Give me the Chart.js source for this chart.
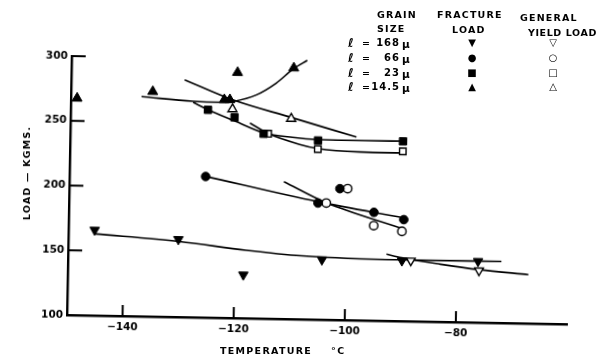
<!DOCTYPE html>
<html>
<head>
<meta charset="utf-8">
<script src="https://cdn.jsdelivr.net/npm/chart.js@4/dist/chart.umd.min.js"></script>
<style>
  html, body { margin: 0; padding: 0; background: #fff; }
  #wrap { position: relative; width: 596px; height: 357px; overflow: hidden; }
  #chart { position: absolute; left: 0; top: 0; transform-origin: 67px 315px; transform: rotate(1.05deg); }
  .t { position: absolute; font-family: "DejaVu Sans", sans-serif; font-weight: bold; color: #000;
       font-size: 9.5px; line-height: 10px; letter-spacing: 1.2px; white-space: nowrap; }
  .sym { position: absolute; font-family: "DejaVu Sans", sans-serif; color: #000; font-size: 10px;
         line-height: 10px; transform: translate(-50%, -50%); }
</style>
</head>
<body>
<div id="wrap">
  <canvas id="chart" width="596" height="357"></canvas>
</div>
<script>
// axis ticks
const tempTicks = [-140, -120, -100, -80];
const tempTickLabels = ['\u2212140', '\u2212120', '\u2212100', '\u221280'];
const loadTicks = [100, 150, 200, 250, 300];
const loadTickLabels = ['100', '150', '200', '250', '300'];

// grain sizes (legend)
const grainSizes = ['168', '66', '23', '14.5'];

// measured points: temperature (C) and load (kgms)
const frac168T = [-145.3, -130.2, -118.4, -104.3, -89.9, -76.2];
const frac168L = [166, 160, 133.5, 146.3, 146.7, 147.3];
const yield168T = [-88.3, -76];
const yield168L = [146.8, 140.1];

const frac66T = [-125.5, -105.2, -101.3, -95.1, -89.7];
const frac66L = [208.9, 190, 201.4, 183.6, 178.4];
const yield66T = [-103.7, -99.9, -95.1, -90];
const yield66L = [190.1, 201.5, 173.3, 169.3];

const frac23T = [-125.3, -120.5, -115.2, -105.4, -90.1];
const frac23L = [260.4, 254.9, 242.7, 238.3, 238.8];
const yield23T = [-114.4, -105.4, -90.1];
const yield23L = [242.8, 231.7, 231.1];

const frac14T = [-148.9, -135.3, -122.4, -121.4, -120.1, -110];
const frac14L = [267.5, 273.7, 268.4, 268.5, 289.6, 293.9];
const yield14T = [-120.9, -110.3];
const yield14L = [261.3, 254.7];

// hand drawn curves through the points
const fit168FT = [-145.3, -130, -118, -108, -90, -72];
const fit168FL = [163, 158.3, 152.5, 149, 147.3, 147.5];
const fit168YT = [-92.7, -90, -83, -76, -67.1];
const fit168YL = [151.5, 149, 144.5, 140.8, 137.7];

const fit66FT = [-125.5, -105.2, -89.7];
const fit66FL = [209, 191, 179.7];
const fit66YT = [-111.4, -103.7, -90.4];
const fit66YL = [206, 190.3, 172];

const fit23FT = [-128, -125.3, -120.5, -115.2, -110, -105.4, -97, -90];
const fit23FL = [266, 260.5, 252.3, 243.5, 240.3, 239, 238.8, 239];
const fit23YT = [-117.7, -114.4, -108.7, -105.4, -97.8, -90.5];
const fit23YL = [250.8, 243, 235, 232, 230, 229.8];

const fit14FT = [-137.3, -128, -122.5, -120.8, -116.6, -113.1, -110.1, -107.6];
const fit14FL = [269.7, 266.8, 266.4, 267.2, 272.7, 282, 293.1, 300];
const fit14YT = [-129.6, -120.9, -110.3, -98.5];
const fit14YL = [283.2, 268.5, 255.7, 241.5];

const ink = '#000';
const pts = (T, L) => T.map((t, i) => ({ x: t, y: L[i] }));

function marks(T, L, style, radius, open, rotation) {
  return {
    data: pts(T, L),
    showLine: false,
    pointStyle: style,
    pointRadius: radius,
    pointRotation: rotation || 0,
    pointBackgroundColor: open ? '#fff' : ink,
    pointBorderColor: ink,
    pointBorderWidth: open ? 1.4 : 1,
    order: 0,
    clip: false
  };
}

function curve(T, L) {
  return {
    data: pts(T, L),
    showLine: true,
    pointRadius: 0,
    borderColor: ink,
    borderWidth: 1.6,
    cubicInterpolationMode: 'monotone',
    fill: false,
    order: 1,
    clip: false
  };
}

// small ticks pointing into the plot
const inwardTicks = {
  id: 'inwardTicks',
  afterDatasetsDraw(chart) {
    const { ctx, chartArea, scales: { x, y } } = chart;
    ctx.save();
    ctx.strokeStyle = ink;
    ctx.lineWidth = 2;
    ctx.beginPath();
    x.ticks.forEach(t => {
      const px = x.getPixelForValue(t.value);
      ctx.moveTo(px, chartArea.bottom);
      ctx.lineTo(px, chartArea.bottom - 11);
    });
    y.ticks.forEach(t => {
      if (t.value === y.min) return;
      const py = y.getPixelForValue(t.value);
      ctx.moveTo(chartArea.left, py);
      ctx.lineTo(chartArea.left + 14, py);
    });
    ctx.stroke();
    ctx.restore();
  }
};

const tickFont = { family: 'DejaVu Sans', size: 10.5, weight: 'bold' };

new Chart('chart', {
  type: 'scatter',
  data: {
    datasets: [
      marks(frac168T, frac168L, 'triangle', 5.5, false, 180),
      marks(yield168T, yield168L, 'triangle', 5, true, 180),
      marks(frac66T, frac66L, 'circle', 4.3, false),
      marks(yield66T, yield66L, 'circle', 4.2, true),
      marks(frac23T, frac23L, 'rect', 5.2, false),
      marks(yield23T, yield23L, 'rect', 4.6, true),
      marks(frac14T, frac14L, 'triangle', 5.8, false),
      marks(yield14T, yield14L, 'triangle', 5.2, true),
      curve(fit168FT, fit168FL),
      curve(fit168YT, fit168YL),
      curve(fit66FT, fit66FL),
      curve(fit66YT, fit66YL),
      curve(fit23FT, fit23FL),
      curve(fit23YT, fit23YL),
      curve(fit14FT, fit14FL),
      curve(fit14YT, fit14YL)
    ]
  },
  options: {
    responsive: false,
    animation: false,
    layout: { padding: { top: 56, right: 29, left: 0, bottom: 0 } },
    plugins: { legend: { display: false }, tooltip: { enabled: false } },
    scales: {
      x: {
        type: 'linear',
        min: -150,
        max: -60,
        afterBuildTicks: s => { s.ticks = tempTicks.map(v => ({ value: v })); },
        afterFit: s => { s.height = 42; },
        grid: { display: false, drawTicks: false },
        border: { display: true, color: ink, width: 2.4 },
        ticks: {
          autoSkip: false,
          maxRotation: 0,
          padding: 5,
          color: ink,
          font: tickFont,
          callback: (v, i) => tempTickLabels[i]
        }
      },
      y: {
        type: 'linear',
        min: 100,
        max: 300,
        afterBuildTicks: s => { s.ticks = loadTicks.map(v => ({ value: v })); },
        afterFit: s => { s.width = 67; },
        grid: { display: false, drawTicks: false },
        border: { display: true, color: ink, width: 2.4 },
        ticks: {
          autoSkip: false,
          padding: 4,
          color: ink,
          font: tickFont,
          callback: (v, i) => loadTickLabels[i]
        }
      }
    }
  },
  plugins: [inwardTicks]
});

// text around the plot
const wrap = document.getElementById('wrap');

function label(text, left, cy, extra) {
  const el = document.createElement('div');
  el.className = 't';
  el.textContent = text;
  el.style.left = left + 'px';
  el.style.top = (cy - 5) + 'px';
  if (extra) Object.assign(el.style, extra);
  wrap.appendChild(el);
  return el;
}

function symbol(ch, cx, cy) {
  const el = document.createElement('div');
  el.className = 'sym';
  el.textContent = ch;
  el.style.left = cx + 'px';
  el.style.top = cy + 'px';
  wrap.appendChild(el);
}

label('GRAIN', 377, 15);
label('SIZE', 377, 29);
label('FRACTURE', 437, 15);
label('LOAD', 452, 30);
label('GENERAL', 520, 18);
label('YIELD LOAD', 528, 33, { letterSpacing: '0.6px' });

const rowY = [43, 58, 72.5, 87];
const fracSyms = ['\u25BC', '\u25CF', '\u25A0', '\u25B2'];
const yieldSyms = ['\u25BD', '\u25CB', '\u25A1', '\u25B3'];
grainSizes.forEach((g, i) => {
  label('\u2113', 348, rowY[i], { fontSize: '12px', fontStyle: 'italic' });
  label('=', 362, rowY[i]);
  label(g, 0, rowY[i], { left: 'auto', right: (596 - 400) + 'px', letterSpacing: '1px', fontSize: '10px' });
  label('\u03BC', 402, rowY[i] + 1, { fontSize: '10.5px' });
  symbol(fracSyms[i], 472, rowY[i]);
  symbol(yieldSyms[i], 553, rowY[i]);
});

// axis titles
label('TEMPERATURE', 220, 351, { letterSpacing: '1.3px' });
label('\u00B0C', 331, 351, { letterSpacing: '1.5px' });
const yt = label('LOAD \u2014 KGMS.', 27, 173, { fontSize: '9.5px', letterSpacing: '1.2px' });
yt.style.top = '173px';
yt.style.transform = 'translate(-50%, -50%) rotate(-90deg)';
</script>
</body>
</html>
